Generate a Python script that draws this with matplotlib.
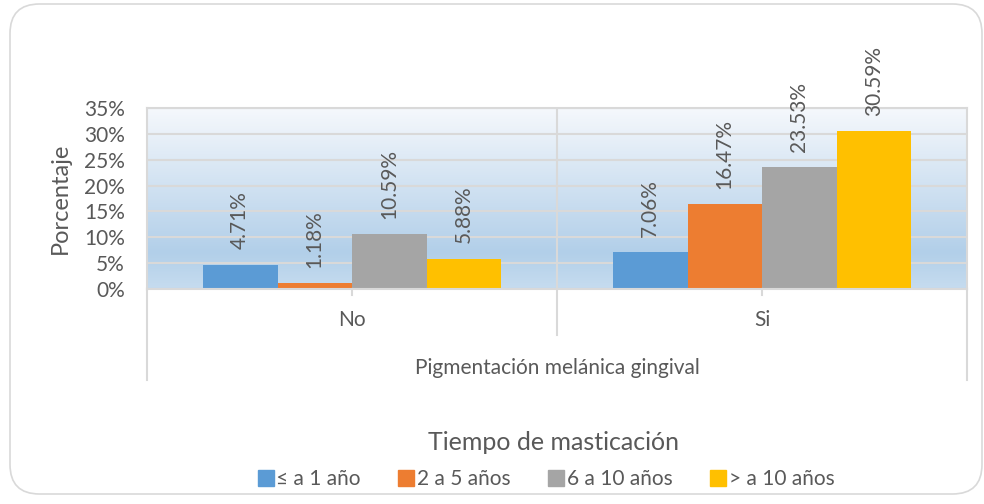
import matplotlib.pyplot as plt
import numpy as np
from matplotlib.colors import LinearSegmentedColormap
from matplotlib.patches import FancyBboxPatch
from matplotlib.lines import Line2D

plt.rcParams['font.family'] = ['Lato', 'DejaVu Sans']

categories = ["No", "Si"]
series_names = ["≤ a 1 año", "2 a 5 años", "6 a 10 años", "> a 10 años"]
values = [
    [4.71, 7.06],
    [1.18, 16.47],
    [10.59, 23.53],
    [5.88, 30.59],
]
colors = ["#5B9BD5", "#ED7D31", "#A5A5A5", "#FFC000"]
yticks = [0, 5, 10, 15, 20, 25, 30, 35]

text_color = "#595959"
grid_color = "#D9D9D9"

W, H = 984, 504
fig = plt.figure(figsize=(W / 100, H / 100), dpi=100)

# rounded chart frame
frame = FancyBboxPatch((10 / W, 10 / H), 972 / W, 490 / H,
                       boxstyle="round,pad=0,rounding_size=0.03",
                       transform=fig.transFigure, facecolor="white",
                       edgecolor="#D9D9D9", linewidth=1.2, zorder=-1,
                       mutation_aspect=W / H)
fig.patches.append(frame)

ax = fig.add_axes([147 / W, 1 - 289 / H, 820 / W, 181 / H])
ax.set_zorder(1)
ax.set_xlim(0, len(categories))
ax.set_ylim(0, 35)

# gradient background
cmap = LinearSegmentedColormap.from_list(
    "bg", [(0.0, "#C6DCEF"), (0.2, "#B2CFE9"), (1.0, "#F5F8FC")])
grad = np.linspace(0, 1, 256).reshape(-1, 1)
ax.imshow(grad, aspect="auto", cmap=cmap, origin="lower",
          extent=[0, len(categories), 0, 35], zorder=0)

# gridlines
for t in yticks:
    ax.axhline(t, color=grid_color, linewidth=1.5, zorder=1)
ax.axvline(1, color=grid_color, linewidth=1.5, zorder=1)

n = len(series_names)
bar_w = 298 / 410 / n
x = np.arange(len(categories)) + 0.5
for i, (name, vals, c) in enumerate(zip(series_names, values, colors)):
    pos = x + (i - (n - 1) / 2) * bar_w
    ax.bar(pos, vals, width=bar_w, color=c, label=name, zorder=2)
    for px, v in zip(pos, vals):
        ax.annotate(f"{v:.2f}%", (px, v), xytext=(0, 11),
                    textcoords="offset points", rotation=90,
                    ha="center", va="bottom", fontsize=15,
                    color=text_color, annotation_clip=False)

ax.set_yticks(yticks)
ax.set_yticklabels([f"{t}%" for t in yticks])
ax.tick_params(axis="y", length=0, pad=16, labelsize=15, labelcolor=text_color)
ax.set_xticks([])
for s in ["top", "right", "left", "bottom"]:
    ax.spines[s].set_color(grid_color)
    ax.spines[s].set_linewidth(1.5)

# multi-level category axis
tr = ax.get_xaxis_transform()
for xv, y0 in [(0, -0.503), (1, -0.254), (2, -0.503)]:
    ax.plot([xv, xv], [0, y0], transform=tr, color=grid_color,
            linewidth=1.5, clip_on=False)
for xv in x:
    ax.plot([xv, xv], [0, -0.033], transform=tr, color=grid_color,
            linewidth=1.5, clip_on=False)
    ax.text(xv, -0.171, categories[int(xv)], transform=tr, ha="center",
            va="center", fontsize=15, color=text_color)
ax.text(1, -0.436, "Pigmentación melánica gingival", transform=tr,
        ha="center", va="center", fontsize=15, color=text_color)

fig.text(60 / W, 1 - 198 / H, "Porcentaje", rotation=90, ha="center",
         va="center", fontsize=17, color=text_color)

fig.text(554 / W, 1 - 442 / H, "Tiempo de masticación", ha="center",
         va="center", fontsize=18, color=text_color)

handles = [Line2D([], [], marker="s", linestyle="none", markersize=12,
                  markerfacecolor=c, markeredgecolor=c) for c in colors]
fig.legend(handles, series_names, loc="center", ncol=4,
           bbox_to_anchor=(547 / W, 1 - 479 / H), frameon=False,
           fontsize=15, labelcolor=text_color, handlelength=0.6,
           handletextpad=0.2, columnspacing=1.9)

fig.savefig("out.png", dpi=100)
